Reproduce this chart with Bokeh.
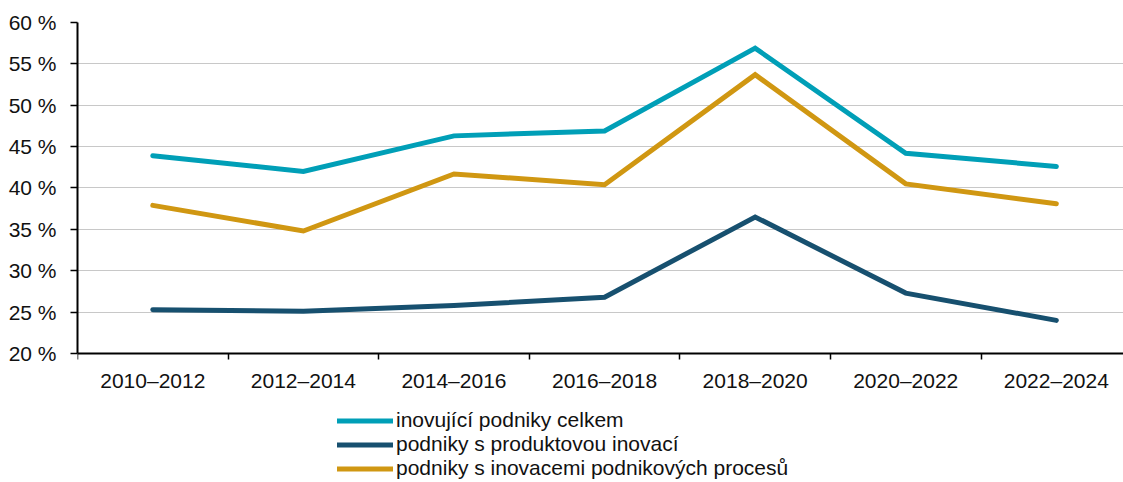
from bokeh.plotting import figure
from bokeh.models import Range1d, FixedTicker, Legend, LegendItem
from bokeh.embed import file_html
from bokeh.resources import INLINE

periods = ["2010–2012", "2012–2014", "2014–2016", "2016–2018", "2018–2020", "2020–2022", "2022–2024"]
celkem = [43.9, 42.0, 46.3, 46.9, 56.9, 44.2, 42.6]
produkt = [25.3, 25.1, 25.8, 26.8, 36.5, 27.3, 24.0]
procesy = [37.9, 34.8, 41.7, 40.4, 53.7, 40.5, 38.1]
y_ticks = [20, 25, 30, 35, 40, 45, 50, 55, 60]
names = ["inovující podniky celkem", "podniky s produktovou inovací", "podniky s inovacemi podnikových procesů"]
colors = ["#009FB7", "#17506F", "#D09712"]

FONT = "Liberation Sans"
xs = [i + 0.5 for i in range(len(periods))]

# frame covers the legend area too; the x axis sits at the 20 % level
p = figure(frame_width=1046, frame_height=460, output_backend="svg", toolbar_location=None,
           x_range=Range1d(0, 6.946), y_range=Range1d(4.41, 60),
           min_border_left=77, min_border_right=0, min_border_top=22, min_border_bottom=0)
p.outline_line_color = None
p.background_fill_color = "white"
p.border_fill_color = "white"

renderers = []
for series, c in zip([celkem, produkt, procesy], colors):
    r = p.line(xs, series, line_color=c, line_width=5, line_cap="round", line_join="miter")
    renderers.append(r)

# x axis
xa = p.xaxis[0]
xa.fixed_location = 20
xa.ticker = FixedTicker(ticks=xs, minor_ticks=list(range(0, len(periods) + 1)))
xa.major_label_overrides = {x: lab for x, lab in zip(xs, periods)}
xa.major_tick_out = 0
xa.major_tick_in = 0
xa.minor_tick_out = 6
xa.minor_tick_in = 0
xa.minor_tick_line_color = "black"
xa.minor_tick_line_width = 1.5
xa.axis_line_color = "black"
xa.axis_line_width = 2
xa.major_label_text_font = FONT
xa.major_label_text_font_size = "21px"
xa.major_label_text_color = "#111111"
xa.major_label_standoff = 10

# y axis
ya = p.yaxis[0]
ya.bounds = (20, 60)
ya.ticker = FixedTicker(ticks=y_ticks)
ya.major_label_overrides = {t: f"{t} %" for t in y_ticks}
ya.major_tick_out = 7
ya.major_tick_in = 0
ya.minor_tick_line_color = None
ya.major_tick_line_color = "black"
ya.major_tick_line_width = 1.5
ya.axis_line_color = "black"
ya.axis_line_width = 2
ya.major_label_text_font = FONT
ya.major_label_text_font_size = "21px"
ya.major_label_text_color = "#111111"
ya.major_label_standoff = 14

p.xgrid.grid_line_color = None
p.ygrid.ticker = FixedTicker(ticks=y_ticks)
p.ygrid.grid_line_color = "#C8C8C8"
p.ygrid.grid_line_width = 1

legend = Legend(items=[LegendItem(label=n, renderers=[r]) for n, r in zip(names, renderers)],
                location=(260, 2), orientation="vertical",
                background_fill_alpha=0, border_line_color=None,
                label_text_font=FONT, label_text_font_size="21px", label_text_color="#111111",
                glyph_width=56, glyph_height=21, label_height=21, label_standoff=3,
                spacing=0, padding=0, margin=0)
p.add_layout(legend, "center")

open("out.html", "w").write(file_html(p, INLINE))
